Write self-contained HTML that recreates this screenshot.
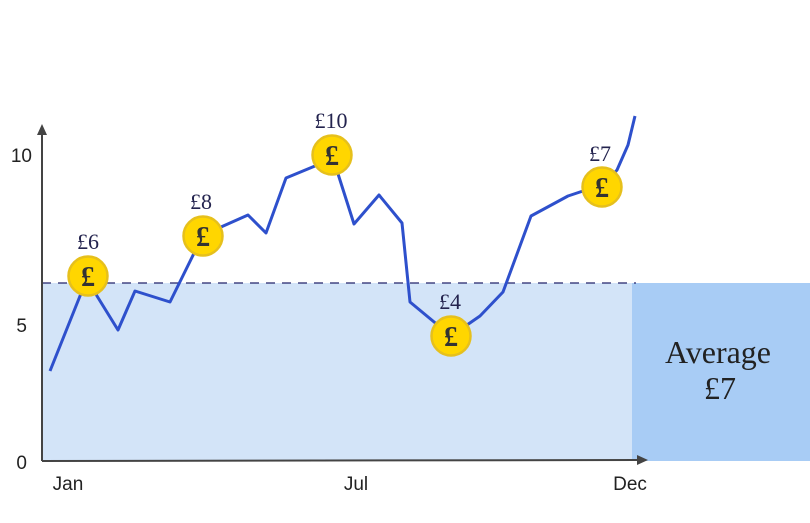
<!DOCTYPE html>
<html><head><meta charset="utf-8"><style>html,body{margin:0;padding:0;background:#fff}</style></head><body>
<svg width="810" height="518" viewBox="0 0 810 518" xmlns="http://www.w3.org/2000/svg">
<rect x="42" y="283" width="590" height="178" fill="#d3e4f8"/>
<rect x="632" y="283" width="178" height="178" fill="#a8ccf5"/>
<line x1="42" y1="283" x2="636" y2="283" stroke="#23236a" stroke-width="1.2" stroke-dasharray="9,7"/>
<line x1="42" y1="461" x2="42" y2="133" stroke="#444" stroke-width="2"/>
<polygon points="42,124 37,135 47,135" fill="#444"/>
<line x1="42" y1="461" x2="640" y2="460" stroke="#444" stroke-width="2"/>
<polygon points="648,460 637,455 637,465" fill="#444"/>
<g font-family="Liberation Sans, sans-serif" font-size="19" fill="#222">
<text x="32" y="162" text-anchor="end">10</text>
<text x="27" y="332" text-anchor="end">5</text>
<text x="27" y="469" text-anchor="end">0</text>
<text x="68" y="490" text-anchor="middle">Jan</text>
<text x="356" y="490" text-anchor="middle">Jul</text>
<text x="630" y="490" text-anchor="middle">Dec</text>
</g>
<polyline fill="none" stroke="#2e50cc" stroke-width="3" stroke-linejoin="round" points="50,371 88,276 97,296 118,330 135,291 170,302 203,235 248,215 266,233 286,178 315,166 332,155 354,224 379,195 402,223 410,302 451,336 480,316 503,292 531,216 568,196 583,191 602,187 617,170 628,145 635,116"/>
<g fill="#ffd600" stroke="#e6c01c" stroke-width="2.5">
<circle cx="88" cy="276" r="19.5"/><circle cx="203" cy="236" r="19.5"/><circle cx="332" cy="155" r="19.5"/><circle cx="451" cy="336" r="19.5"/><circle cx="602" cy="187" r="19.5"/>
</g>
<g font-family="Liberation Serif, serif" font-size="28" font-weight="bold" fill="#333" text-anchor="middle">
<text x="88" y="286">£</text><text x="203" y="246">£</text><text x="332" y="165">£</text><text x="451" y="346">£</text><text x="602" y="197">£</text>
</g>
<g font-family="Liberation Serif, serif" font-size="22" fill="#23234e" text-anchor="middle">
<text x="88" y="249">£6</text><text x="201" y="209">£8</text><text x="331" y="128">£10</text><text x="450" y="309">£4</text><text x="600" y="161">£7</text>
</g>
<g font-family="Liberation Serif, serif" font-size="32" fill="#222" text-anchor="middle">
<text x="718" y="363">Average</text><text x="720" y="399">£7</text>
</g>
</svg>
</body></html>
